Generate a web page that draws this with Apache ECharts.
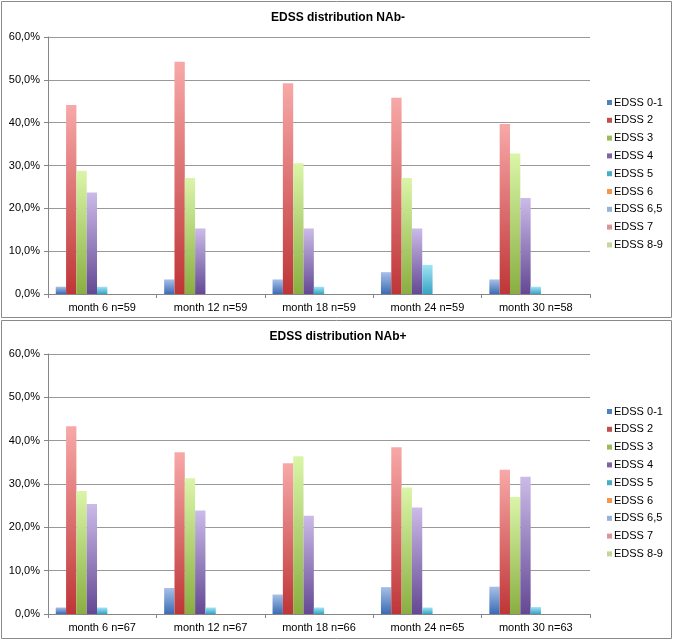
<!DOCTYPE html>
<html>
<head>
<meta charset="utf-8">
<script src="https://cdn.jsdelivr.net/npm/echarts@6/dist/echarts.min.js"></script>
<style>
html,body{margin:0;padding:0;background:#fff;}
#c{width:676px;height:641px;}
</style>
</head>
<body>
<div id="c"></div>
<script>
// ---- data ----
const seriesNames = ['EDSS 0-1','EDSS 2','EDSS 3','EDSS 4','EDSS 5','EDSS 6','EDSS 6,5','EDSS 7','EDSS 8-9'];
const catsNeg = ['month 6 n=59','month 12 n=59','month 18 n=59','month 24 n=59','month 30 n=58'];
const catsPos = ['month 6 n=67','month 12 n=67','month 18 n=66','month 24 n=65','month 30 n=63'];
const yTicks = [0,10,20,30,40,50,60];
const titleNeg = 'EDSS distribution NAb-';
const titlePos = 'EDSS distribution NAb+';

// percentages, NAb-
const neg_0_1 = [1.7, 3.4, 3.4, 5.1, 3.4];
const neg_2   = [44.1, 54.2, 49.2, 45.8, 39.7];
const neg_3   = [28.8, 27.1, 30.5, 27.1, 32.8];
const neg_4   = [23.7, 15.3, 15.3, 15.3, 22.4];
const neg_5   = [1.7, 0, 1.7, 6.8, 1.7];
const neg_6   = [0, 0, 0, 0, 0];
const neg_6_5 = [0, 0, 0, 0, 0];
const neg_7   = [0, 0, 0, 0, 0];
const neg_8_9 = [0, 0, 0, 0, 0];

// percentages, NAb+
const pos_0_1 = [1.5, 6.0, 4.5, 6.2, 6.3];
const pos_2   = [43.3, 37.3, 34.8, 38.5, 33.3];
const pos_3   = [28.4, 31.3, 36.4, 29.2, 27.0];
const pos_4   = [25.4, 23.9, 22.7, 24.6, 31.7];
const pos_5   = [1.5, 1.5, 1.5, 1.5, 1.6];
const pos_6   = [0, 0, 0, 0, 0];
const pos_6_5 = [0, 0, 0, 0, 0];
const pos_7   = [0, 0, 0, 0, 0];
const pos_8_9 = [0, 0, 0, 0, 0];

const negData = [neg_0_1, neg_2, neg_3, neg_4, neg_5, neg_6, neg_6_5, neg_7, neg_8_9];
const posData = [pos_0_1, pos_2, pos_3, pos_4, pos_5, pos_6, pos_6_5, pos_7, pos_8_9];

// ---- styles ----
const gradTop = ['#a7c0e8','#f8a8a8','#daf5a8','#cbbbe8','#a0e4f4','#fbc796','#cadbf3','#f8c6c5','#e5f2c8'];
const gradBot = ['#3a6cb3','#bf3537','#8aae42','#644894','#37a4c4','#e5781a','#7b9dcc','#cf7574','#a8c079'];
const solid   = ['#4f81bd','#c0504d','#9bbb59','#8064a2','#4bacc6','#f79646','#95b3d7','#d99694','#c3d69b'];

function grad(i){
  return new echarts.graphic.LinearGradient(0,0,0,1,[{offset:0,color:gradTop[i]},{offset:1,color:gradBot[i]}]);
}

const font = 'Liberation Sans, Arial, sans-serif';
const axisGray = '#868686';
const gridGray = '#999999';

function fmt(v){ return v.toFixed(1).replace('.',',') + '%'; }

function xAxis(idx, cats){
  return {
    type:'category', gridIndex: idx, data: cats,
    axisLine:{lineStyle:{color:axisGray}},
    axisTick:{show:true, length:4, lineStyle:{color:axisGray}},
    axisLabel:{color:'#000', fontSize:11, fontFamily:font, margin:8}
  };
}
function yAxis(idx){
  return {
    type:'value', gridIndex: idx, min: yTicks[0], max: yTicks[yTicks.length-1], interval: yTicks[1]-yTicks[0],
    axisLine:{show:true, lineStyle:{color:axisGray}},
    axisTick:{show:true, length:4, lineStyle:{color:axisGray}},
    splitLine:{lineStyle:{color:gridGray}},
    axisLabel:{color:'#000', fontSize:11, fontFamily:font, margin:8, formatter: fmt}
  };
}

const series = [];
[negData, posData].forEach((dat, g) => {
  dat.forEach((arr, i) => {
    series.push({
      name: seriesNames[i], type:'bar', xAxisIndex:g, yAxisIndex:g,
      data: arr, barGap:'0%', barCategoryGap:'14.3%',
      itemStyle:{color: grad(i)}, color: solid[i],
      emphasis:{disabled:true}
    });
  });
});

function legend(top){
  return {
    orient:'vertical', left:602, top: top, itemWidth:5, itemHeight:5, itemGap:4.8,
    icon:'rect',
    textStyle:{color:'#000', fontSize:11, fontFamily:font, padding:[0,0,0,-3], lineHeight:13},
    data: seriesNames.map((n,i)=>({name:n, itemStyle:{color:solid[i]}})),
    selectedMode:false
  };
}

const chart = echarts.init(document.getElementById('c'), null, {renderer:'canvas'});
chart.setOption({
  backgroundColor:'#fff',
  animation:false,
  title:[
    {text:titleNeg, left:'center', top:7, textStyle:{fontSize:12, fontWeight:'bold', color:'#000', fontFamily:font}},
    {text:titlePos, left:'center', top:326, textStyle:{fontSize:12, fontWeight:'bold', color:'#000', fontFamily:font}}
  ],
  legend:[legend(91), legend(400)],
  grid:[
    {left:48, right:86, top:37, height:257},
    {left:48, right:86, top:354, height:260}
  ],
  xAxis:[xAxis(0,catsNeg), xAxis(1,catsPos)],
  yAxis:[yAxis(0), yAxis(1)],
  series: series,
  graphic:[
    {type:'rect', shape:{x:1.5,y:1.5,width:670,height:316}, style:{fill:'none', stroke:'#8a8a8a', lineWidth:1}, silent:true, z:-1},
    {type:'rect', shape:{x:1.5,y:320.5,width:670,height:318}, style:{fill:'none', stroke:'#8a8a8a', lineWidth:1}, silent:true, z:-1}
  ]
});
</script>
</body>
</html>
